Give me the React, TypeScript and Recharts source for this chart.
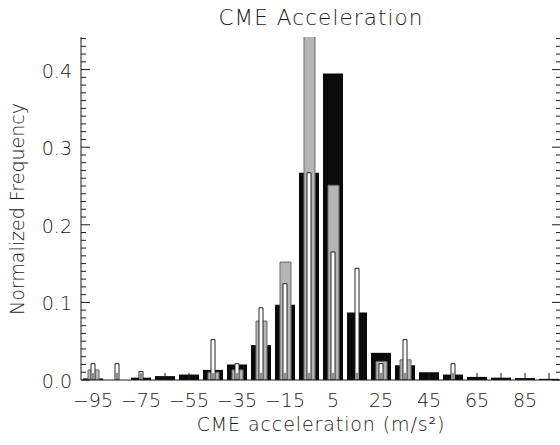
import { BarChart, Bar, XAxis, YAxis } from "recharts";

// bin centres (m/s^2) and normalized frequencies per sample
const bins = [-95, -85, -75, -65, -55, -45, -35, -25, -15, -5, 5, 15, 25, 35, 45, 55, 65, 75, 85, 95];
const blackFreq = [0.002, 0, 0.003, 0.005, 0.007, 0.013, 0.02, 0.045, 0.097, 0.267, 0.395, 0.087, 0.035, 0.019, 0.01, 0.007, 0.004, 0.003, 0.0025, 0.0015];
const grayFreq = [0.013, 0, 0, 0, 0, 0.01, 0.013, 0.076, 0.152, 0.47, 0.251, 0, 0.024, 0.026, 0, 0, 0, 0, 0, 0];
const whiteFreq = [0.021, 0.021, 0.011, 0, 0, 0.052, 0.021, 0.093, 0.124, 0.267, 0.165, 0.144, 0.021, 0.052, 0, 0.021, 0, 0, 0, 0];

const xTickLabels = [-95, -75, -55, -35, -15, 5, 25, 45, 65, 85];
const yTickLabels = [0, 0.1, 0.2, 0.3, 0.4];
const yMax = 0.442;

const data = bins.map((bin, i) => ({
  bin,
  black: blackFreq[i],
  gray: grayFreq[i],
  white: whiteFreq[i],
}));

// minor ticks every 0.01
const yTicks = Array.from({ length: 45 }, (_, i) => i / 100);

const font = "'DejaVu Sans', sans-serif";
const weight = 200;
const ink = "#1a1a1a";

const isMajor = (v: number) => yTickLabels.some((t) => Math.abs(t - v) < 1e-6);

function LeftTick({ x, y, payload }: any) {
  const v = payload.value;
  const major = isMajor(v);
  return (
    <g>
      <line x1={x + 9} x2={x + 9 + (major ? 9 : 5)} y1={y} y2={y} stroke={ink} />
      {major && (
        <text x={x} y={y} dy={8} textAnchor="end" fontSize={19} fontWeight={weight} fontFamily={font} fill={ink}>
          {v.toFixed(1)}
        </text>
      )}
    </g>
  );
}

function RightTick({ x, y, payload }: any) {
  const major = isMajor(payload.value);
  return <line x1={x} x2={x - (major ? 9 : 5)} y1={y} y2={y} stroke={ink} />;
}

function BottomTick({ x, y, payload }: any) {
  const v = payload.value;
  const label = xTickLabels.includes(v);
  return (
    <g>
      <line x1={x} x2={x} y1={y} y2={y - 7} stroke={ink} />
      {label && (
        <text x={x} y={y + 26.5} textAnchor="middle" fontSize={19} fontWeight={weight} fontFamily={font} fill={ink}>
          {v < 0 ? `\u2212${Math.abs(v)}` : `${v}`}
        </text>
      )}
    </g>
  );
}

export default function App() {
  const textStyle = { fontFamily: font, fontWeight: weight, color: ink, whiteSpace: "nowrap" as const };
  return (
    <div style={{ position: "absolute", left: 0, top: 0, width: 560, height: 445, overflow: "hidden", background: "#fff" }}>
      <div
        style={{
          ...textStyle,
          position: "absolute",
          left: 81,
          width: 480,
          top: 6.5,
          fontSize: 21.5,
          lineHeight: "22px",
          letterSpacing: 1.1,
          textAlign: "center",
        }}
      >
        CME Acceleration
      </div>
      <div
        style={{
          ...textStyle,
          position: "absolute",
          left: 17,
          top: 209,
          fontSize: 19,
          lineHeight: "19px",
          transform: "translate(-50%, -50%) rotate(-90deg)",
        }}
      >
        Normalized Frequency
      </div>
      <div
        style={{
          ...textStyle,
          position: "absolute",
          left: 81,
          width: 480,
          top: 415.5,
          fontSize: 19,
          lineHeight: "16px",
          letterSpacing: 0.9,
          textAlign: "center",
        }}
      >
        CME acceleration (m/s²)
      </div>
      <BarChart width={562} height={445} data={data} margin={{ top: 37, right: 0, bottom: 0, left: 0 }} barGap={0}>
        <XAxis xAxisId="g" dataKey="bin" hide />
        <XAxis xAxisId="w" dataKey="bin" hide />
        <YAxis
          yAxisId="l"
          type="number"
          domain={[0, yMax]}
          allowDataOverflow
          ticks={yTicks}
          interval={0}
          width={81}
          tickSize={0}
          tickMargin={9}
          tick={<LeftTick />}
          axisLine={{ stroke: ink }}
        />
        <YAxis
          yAxisId="r"
          orientation="right"
          type="number"
          domain={[0, yMax]}
          allowDataOverflow
          ticks={yTicks}
          interval={0}
          width={1}
          tickSize={0}
          tickMargin={0}
          tick={<RightTick />}
          axisLine={{ stroke: ink }}
        />
        <Bar xAxisId="b" yAxisId="l" dataKey="black" fill="#0a0a0a" barSize={20} isAnimationActive={false} />
        <Bar xAxisId="g" yAxisId="l" dataKey="gray" fill="#b4b4b4" stroke="#6a6a6a" strokeWidth={1} barSize={11} isAnimationActive={false} />
        <Bar xAxisId="w" yAxisId="l" dataKey="white" fill="#ffffff" stroke="#222" strokeWidth={1} barSize={4} isAnimationActive={false} />
        <XAxis
          xAxisId="b"
          dataKey="bin"
          height={65}
          interval={0}
          tickSize={0}
          tickMargin={0}
          tick={<BottomTick />}
          axisLine={{ stroke: ink }}
        />
        <XAxis xAxisId="t" dataKey="bin" orientation="top" height={0} tick={false} tickLine={false} axisLine={{ stroke: "#666" }} />
      </BarChart>
    </div>
  );
}
